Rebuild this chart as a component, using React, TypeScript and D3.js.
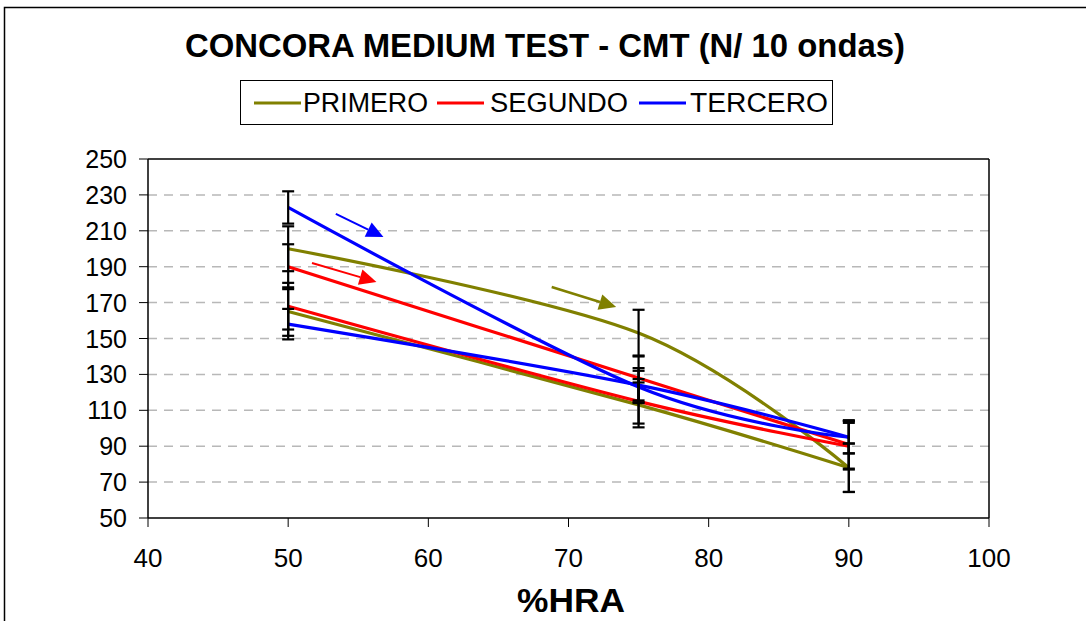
import React from "react";
import * as d3 from "d3";

const titleText = "CONCORA MEDIUM TEST - CMT (N/ 10 ondas)";
const xLabel = "%HRA";
const xTicks = [40, 50, 60, 70, 80, 90, 100];
const yTicks = [50, 70, 90, 110, 130, 150, 170, 190, 210, 230, 250];

const hraValues = [50, 75, 90];

// PRIMERO
const primeroIda = [200, 153, 78];
const primeroIdaErr = [12.5, 13, 13.5];
const primeroVuelta = [165, 113, 78];
const primeroVueltaErr = [13.5, 12.5, 13.5];
// SEGUNDO
const segundoIda = [190, 128, 91];
const segundoIdaErr = [12.5, 12.5, 13.5];
const segundoVuelta = [168, 115, 90];
const segundoVueltaErr = [13, 12.4, 13];
// TERCERO
const terceroIda = [223, 123, 95];
const terceroIdaErr = [9, 9, 9];
const terceroVuelta = [158, 124, 95];
const terceroVueltaErr = [8.5, 9.5, 9];

const seriesNames = ["PRIMERO", "SEGUNDO", "TERCERO"];
const seriesColors = ["#808000", "#FF0000", "#0000FF"];

// direction arrows [x0, y0, x1, y1] in data units
const arrowPrimero = [68.8, 178.7, 73.4, 167.5];
const arrowSegundo = [51.7, 192.1, 56.3, 181.5];
const arrowTercero = [53.4, 219.4, 56.8, 206.5];

const lines = [
  { color: seriesColors[0], values: primeroIda, err: primeroIdaErr },
  { color: seriesColors[0], values: primeroVuelta, err: primeroVueltaErr },
  { color: seriesColors[1], values: segundoIda, err: segundoIdaErr },
  { color: seriesColors[1], values: segundoVuelta, err: segundoVueltaErr },
  { color: seriesColors[2], values: terceroIda, err: terceroIdaErr },
  { color: seriesColors[2], values: terceroVuelta, err: terceroVueltaErr },
];
const arrows = [
  { color: seriesColors[0], a: arrowPrimero, w: 2.5 },
  { color: seriesColors[1], a: arrowSegundo, w: 2 },
  { color: seriesColors[2], a: arrowTercero, w: 2 },
];

export default function App() {
  const left = 148, right = 989, top = 159, bottom = 518;
  const x = d3.scaleLinear().domain([40, 100]).range([left, right]);
  const y = d3.scaleLinear().domain([50, 250]).range([bottom, top]);
  const lineGen = d3
    .line<number>()
    .x((_, i) => x(hraValues[i]))
    .y((d) => y(d))
    .curve(d3.curveCatmullRom.alpha(0));

  const font = "Arial, 'Liberation Sans', sans-serif";

  const legendItems = [
    { lx: 254, tx: 303, tw: 125 },
    { lx: 437, tx: 490, tw: 138 },
    { lx: 639, tx: 690, tw: 138 },
  ];

  return (
    <svg
      width={1086}
      height={621}
      style={{ position: "absolute", left: 0, top: 0, background: "#fff" }}
      fontFamily={font}
    >
      <rect x={0} y={0} width={1086} height={621} fill="#fff" />
      <rect x={4.5} y={7.5} width={1200} height={700} fill="none" stroke="#000" strokeWidth={1.5} />

      <text x={185} y={57} fontSize={34} fontWeight="bold" textLength={720} lengthAdjust="spacingAndGlyphs">
        {titleText}
      </text>

      {/* legend */}
      <rect x={240.5} y={80.5} width={592} height={44} fill="#fff" stroke="#000" strokeWidth={1} />
      {seriesNames.map((n, i) => (
        <g key={n}>
          <line x1={legendItems[i].lx} x2={legendItems[i].lx + 47} y1={103} y2={103} stroke={seriesColors[i]} strokeWidth={3} />
          <text x={legendItems[i].tx} y={112} fontSize={27} textLength={legendItems[i].tw} lengthAdjust="spacingAndGlyphs">
            {n}
          </text>
        </g>
      ))}

      {/* gridlines */}
      {yTicks.filter((t) => t > 50 && t < 250).map((t) => (
        <line key={t} x1={left} x2={right} y1={y(t)} y2={y(t)} stroke="#b8b8b8" strokeWidth={1.5} strokeDasharray="9,7" />
      ))}

      {/* series lines */}
      {lines.map((l, i) => (
        <path key={i} d={lineGen(l.values) || ""} fill="none" stroke={l.color} strokeWidth={3.2} />
      ))}

      {/* error bars */}
      {lines.map((l, i) =>
        l.values.map((v, j) => {
          const cx = x(hraValues[j]);
          return (
            <g key={`${i}-${j}`} stroke="#000" strokeWidth={2.2}>
              <line x1={cx} x2={cx} y1={y(v + l.err[j])} y2={y(v - l.err[j])} />
              <line x1={cx - 6} x2={cx + 6} y1={y(v + l.err[j])} y2={y(v + l.err[j])} />
              <line x1={cx - 6} x2={cx + 6} y1={y(v - l.err[j])} y2={y(v - l.err[j])} />
            </g>
          );
        })
      )}

      {/* arrows */}
      {arrows.map((ar, i) => {
        const x0 = x(ar.a[0]), y0 = y(ar.a[1]), x1 = x(ar.a[2]), y1 = y(ar.a[3]);
        const ang = Math.atan2(y1 - y0, x1 - x0);
        const L = 17, W = 8;
        const bx = x1 - L * Math.cos(ang), by = y1 - L * Math.sin(ang);
        const px = -Math.sin(ang), py = Math.cos(ang);
        const pts = [
          [x1, y1],
          [bx + W * px, by + W * py],
          [bx - W * px, by - W * py],
        ];
        return (
          <g key={i}>
            <line x1={x0} y1={y0} x2={bx} y2={by} stroke={ar.color} strokeWidth={ar.w} />
            <polygon points={pts.map((p) => p.join(",")).join(" ")} fill={ar.color} />
          </g>
        );
      })}

      {/* plot frame and axes */}
      <line x1={left} x2={right} y1={top} y2={top} stroke="#000" strokeWidth={1.5} />
      <line x1={right} x2={right} y1={top} y2={bottom} stroke="#000" strokeWidth={1.5} />
      <line x1={left} x2={left} y1={top} y2={bottom} stroke="#000" strokeWidth={1.5} />
      <line x1={left} x2={right} y1={bottom} y2={bottom} stroke="#000" strokeWidth={1.5} />

      {yTicks.map((t) => (
        <g key={t}>
          <line x1={left - 9} x2={left} y1={y(t)} y2={y(t)} stroke="#000" strokeWidth={1} />
          <text x={127} y={y(t) + 9} fontSize={25} textAnchor="end">
            {t}
          </text>
        </g>
      ))}
      {xTicks.map((t) => (
        <g key={t}>
          <line x1={x(t)} x2={x(t)} y1={bottom} y2={bottom + 9} stroke="#000" strokeWidth={1} />
          <text x={x(t)} y={567} fontSize={26} textAnchor="middle">
            {t}
          </text>
        </g>
      ))}
      <text x={571} y={612} fontSize={34} fontWeight="bold" textAnchor="middle" textLength={108} lengthAdjust="spacingAndGlyphs">
        {xLabel}
      </text>
    </svg>
  );
}
